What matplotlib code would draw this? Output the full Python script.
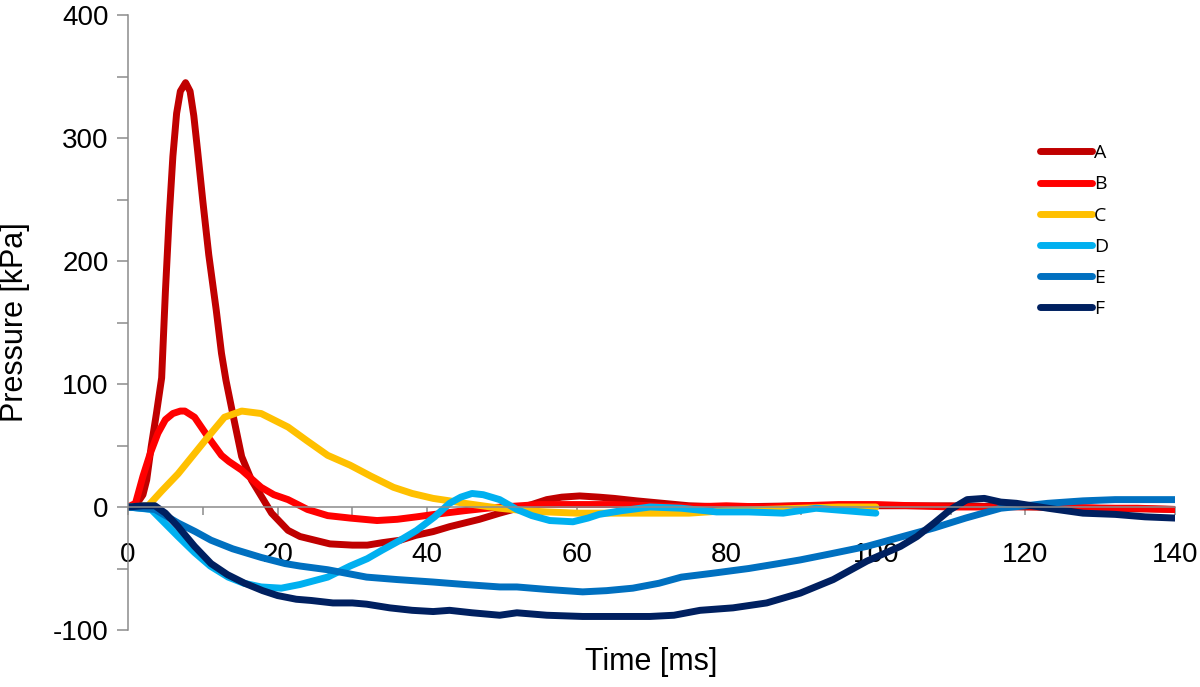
import matplotlib
matplotlib.use("Agg")
import matplotlib.pyplot as plt
from matplotlib.ticker import MultipleLocator

# time [ms] / pressure [kPa]
t_A = [0, 1, 2, 2.5, 3.1, 3.8, 4.5, 5, 5.5, 6, 6.5, 7, 7.7, 8.3, 8.8, 9.3, 10, 10.8, 11.8, 12.5, 13.1,
       14, 15.2, 16.5, 17.8, 19.2, 21.4, 23, 25, 27, 30, 32, 34, 36.4, 38.5, 40.8, 43, 45, 47, 49.7,
       51.5, 54, 56, 58, 60.4, 63, 65, 68, 71.5, 75, 80, 90, 100, 110, 120, 130, 140]
p_A = [0, 1, 10, 22, 49, 76, 105, 175, 235, 285, 320, 338, 345, 338, 318, 290, 249, 205, 160, 125, 103,
       76, 41, 22, 9, -5, -19, -24, -27, -30, -31, -31, -29, -27, -23, -20, -16, -13, -10, -5,
       -2, 2, 6, 8, 9, 8, 7, 5, 3, 1, 0, 1, 1, 1, 0, -1, -2]

t_B = [0, 1, 2, 3, 4, 5, 6, 7, 7.6, 8.9, 10.7, 12.5, 13.5, 15.2, 17.8, 19.5, 21.4, 24, 26.7,
       29.7, 31.5, 33.3, 36, 38.6, 41, 45, 48, 50, 55, 60, 65, 70, 75, 80, 85, 90, 95, 100, 105,
       110, 115, 120, 125, 130, 135, 140]
p_B = [0, 3, 25, 44, 60, 71, 76, 78, 78, 73, 57, 42, 37, 30, 16, 10, 6, -2, -7,
       -9, -10, -11, -10, -8, -6, -3, -1, 0, 2, 2, 2, 1, 0, 1, 0, 1, 2, 2, 1,
       0, 0, 1, 0, -1, -1, -2]

t_C = [0, 2.7, 4.5, 6.7, 8.7, 10.7, 12.9, 15.2, 17.8, 21.4, 23.9, 26.7, 29.7, 32.5, 35.5, 38, 40.8,
       43, 45, 49.7, 53, 56, 60, 65, 70, 75, 80, 85, 90, 95, 100]
p_C = [0, 1, 13, 27, 42, 57, 73, 78, 76, 65, 54, 42, 34, 25, 16, 11, 7,
       5, 3, -1, -3, -4, -5, -5, -5, -5, -3, -2, -1, 0, 0]

t_D = [0, 3.1, 6.7, 8.9, 11, 13.4, 15.5, 17.8, 20.5, 23, 26.7, 29.7, 32, 34, 36.4, 38.6, 41, 43,
       44.5, 46, 47.5, 49.7, 52, 54, 56.4, 59.5, 61.5, 63, 66, 69.8, 74, 78.7, 83, 87.6, 92, 96, 100]
p_D = [0, -2, -24, -37, -48, -57, -62, -65, -66, -63, -57, -48, -42, -35, -27, -19, -8, 3,
       8, 11, 10, 6, -2, -7, -11, -12, -9, -6, -3, 0, -1, -4, -4, -5, -1, -3, -5]

t_E = [0, 3.6, 6.7, 9, 11.1, 14, 17.8, 21, 23, 26.7, 31.9, 36, 40.8, 45, 49.7, 52, 56, 60.8,
       64, 67.5, 71, 74, 78, 83, 87, 89.9, 94, 98.8, 103, 107.8, 112, 116.7, 120, 123, 127.7,
       132, 136, 140]
p_E = [0, -2, -13, -20, -27, -34, -41, -46, -48, -51, -57, -59, -61, -63, -65, -65, -67, -69,
       -68, -66, -62, -57, -54, -50, -46, -43, -38, -32, -25, -17, -9, -1, 1, 3, 5,
       6, 6, 6]

t_F = [0, 2, 3.6, 5, 6.7, 8.9, 11.1, 13.3, 15.6, 18, 20, 22.5, 24.5, 27.4, 30, 31.9, 35, 38, 40.8,
       43, 46, 49.7, 52, 56, 60.8, 65, 69.8, 73, 76.5, 80.9, 85.4, 89.9, 94.3, 98.8, 103.3, 105.5,
       107.8, 110, 112.2, 114.5, 116.7, 118.8, 123, 127.7, 132, 136, 140]
p_F = [0, 1, 1, -5, -16, -32, -46, -55, -62, -68, -72, -75, -76, -78, -78, -79, -82, -84, -85,
       -84, -86, -88, -86, -88, -89, -89, -89, -88, -84, -82, -78, -70, -59, -44, -32, -24,
       -13, -2, 6, 7, 4, 3, -1, -5, -6, -8, -9]

series = [
    ("A", t_A, p_A, "#C00000"),
    ("B", t_B, p_B, "#FF0000"),
    ("C", t_C, p_C, "#FFC000"),
    ("D", t_D, p_D, "#00B0F0"),
    ("E", t_E, p_E, "#0070C0"),
    ("F", t_F, p_F, "#002060"),
]

plt.rcParams['font.family'] = ['Liberation Sans', 'DejaVu Sans']
plt.rcParams['axes.unicode_minus'] = False

fig = plt.figure(figsize=(12, 6.87), dpi=100)
ax = fig.add_axes([128 / 1200, 57 / 687, 1047 / 1200, 615 / 687])

for name, t, p, c in series:
    ax.plot(t, p, color=c, lw=5, label=name, solid_capstyle='round', solid_joinstyle='round')

ax.set_xlim(0, 140)
ax.set_ylim(-100, 400)

grey = "#8c8c8c"
ax.spines['top'].set_visible(False)
ax.spines['right'].set_visible(False)
ax.spines['bottom'].set_position(('data', 0))
for s in ('left', 'bottom'):
    ax.spines[s].set_color(grey)
    ax.spines[s].set_linewidth(1.1)

ax.xaxis.set_major_locator(MultipleLocator(20))
ax.xaxis.set_minor_locator(MultipleLocator(10))
ax.yaxis.set_major_locator(MultipleLocator(100))
ax.yaxis.set_minor_locator(MultipleLocator(50))
ax.tick_params(axis='x', which='both', direction='out', length=6, width=1.1, color=grey,
               labelsize=20, pad=19)
ax.tick_params(axis='y', which='both', direction='out', length=8, width=1.1, color=grey,
               labelsize=20, pad=6)

ax.set_xlabel("Time [ms]", fontsize=22)
ax.set_ylabel("Pressure [kPa]", fontsize=22)
ax.xaxis.set_label_coords(0.5, -(662 - 630) / 615)
ax.yaxis.set_label_coords(-(128 - 15) / 1047, 0.5)
ax.xaxis.label.set_va('center')
ax.yaxis.label.set_va('center')

leg = ax.legend(loc='upper left', bbox_to_anchor=(0.871, 0.79), frameon=False,
                prop={'family': 'Open Sans', 'size': 14}, handlelength=2.67,
                handletextpad=0.12, labelspacing=0.68, borderpad=0, borderaxespad=0)
for h in leg.legend_handles:
    h.set_solid_capstyle('round')

fig.savefig("out.png", dpi=100)
